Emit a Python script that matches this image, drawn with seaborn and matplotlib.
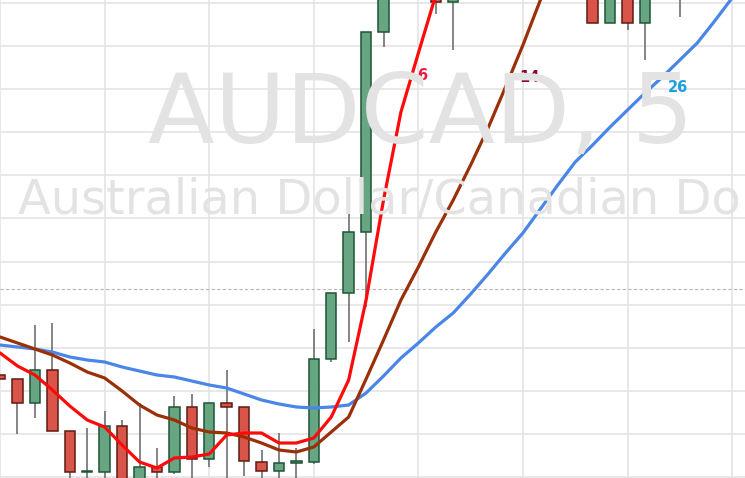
import numpy as np
import pandas as pd
import matplotlib
matplotlib.use("Agg")
import matplotlib.pyplot as plt
import seaborn as sns

# ---- data (AUDCAD, M5) ----
opens = [0.97103, 0.97099, 0.97075, 0.97108, 0.97047, 0.97006, 0.97006, 0.97052, 0.96993, 0.97011,
         0.97006, 0.97071, 0.97019, 0.97075, 0.97071, 0.97016, 0.97007, 0.97015, 0.97016, 0.97119,
         0.97185, 0.97246, 0.97446, 0.97518, 0.97568, 0.97538, 0.97476, 0.97518, 0.97548, 0.97528,
         0.97558, 0.97538, 0.97553, 0.97523, 0.97508, 0.97455, 0.97508, 0.97455, 0.97508, 0.97488,
         0.97518, 0.97498, 0.97528]
highs = [0.97103, 0.97099, 0.97153, 0.97155, 0.97047, 0.97050, 0.97067, 0.97058, 0.97075, 0.97030,
         0.97082, 0.97084, 0.97075, 0.97108, 0.97071, 0.97028, 0.97045, 0.97030, 0.97149, 0.97185,
         0.97280, 0.97446, 0.97538, 0.97588, 0.97598, 0.97558, 0.97538, 0.97568, 0.97568, 0.97578,
         0.97578, 0.97573, 0.97573, 0.97558, 0.97528, 0.97528, 0.97528, 0.97528, 0.97528, 0.97538,
         0.97538, 0.97548, 0.97568]
lows = [0.97099, 0.97044, 0.97060, 0.97047, 0.96988, 0.96988, 0.96988, 0.96978, 0.96983, 0.96988,
        0.97004, 0.96993, 0.97011, 0.96998, 0.97002, 0.96993, 0.96993, 0.96993, 0.97014, 0.97116,
        0.97136, 0.97171, 0.97431, 0.97498, 0.97508, 0.97464, 0.97428, 0.97498, 0.97508, 0.97508,
        0.97518, 0.97518, 0.97508, 0.97503, 0.97455, 0.97455, 0.97448, 0.97418, 0.97483, 0.97461,
        0.97483, 0.97486, 0.97508]
closes = [0.97099, 0.97075, 0.97108, 0.97047, 0.97006, 0.97007, 0.97052, 0.96988, 0.97011, 0.97006,
          0.97071, 0.97019, 0.97075, 0.97071, 0.97017, 0.97007, 0.97015, 0.97017, 0.97119, 0.97185,
          0.97246, 0.97446, 0.97518, 0.97568, 0.97548, 0.97476, 0.97518, 0.97548, 0.97528, 0.97558,
          0.97538, 0.97553, 0.97523, 0.97538, 0.97455, 0.97508, 0.97455, 0.97508, 0.97493, 0.97518,
          0.97498, 0.97528, 0.97548]

nan = np.nan
ma6 = [0.97125, 0.97112, 0.97103, 0.97088, 0.97072, 0.97058, 0.97051, 0.97033, 0.97016, 0.97010,
       0.97020, 0.97021, 0.97024, 0.97043, 0.97045, 0.97045, 0.97035, 0.97035, 0.97040, 0.97061,
       0.97098, 0.97178, 0.97278, 0.97366, 0.97425, 0.97483, 0.97538, nan, nan, nan,
       nan, nan, nan, nan, nan, nan, nan, nan, nan, nan, nan, nan, nan]
ma14 = [0.97141, 0.97135, 0.97129, 0.97123, 0.97115, 0.97106, 0.97100, 0.97087, 0.97073, 0.97063,
        0.97058, 0.97050, 0.97046, 0.97045, 0.97041, 0.97035, 0.97028, 0.97026, 0.97031, 0.97046,
        0.97061, 0.97099, 0.97138, 0.97178, 0.97211, 0.97246, 0.97278, 0.97313, 0.97350, 0.97391,
        0.97433, 0.97478, 0.97523, nan, nan, nan, nan, nan, nan, nan, nan, nan, nan]
ma26 = [0.97133, 0.97131, 0.97129, 0.97126, 0.97121, 0.97118, 0.97116, 0.97111, 0.97107, 0.97103,
        0.97101, 0.97097, 0.97093, 0.97090, 0.97084, 0.97078, 0.97074, 0.97071, 0.97070, 0.97071,
        0.97073, 0.97085, 0.97102, 0.97120, 0.97135, 0.97151, 0.97165, 0.97184, 0.97204, 0.97225,
        0.97245, 0.97269, 0.97293, 0.97316, 0.97333, 0.97351, 0.97368, 0.97385, 0.97401, 0.97418,
        0.97435, 0.97457, 0.97480]

current_price = 0.97189
symbol = "AUDCAD, 5"
description = "Australian Dollar/Canadian Dollar"
ma_labels = ["6", "14", "26"]

# ---- build frame ----
idx = np.arange(len(opens))
df = pd.DataFrame({"i": idx, "open": opens, "high": highs, "low": lows, "close": closes,
                   "ma6": ma6, "ma14": ma14, "ma26": ma26})

sns.set_style("white")
plt.rcParams["font.family"] = ["DejaVu Sans"]

fig = plt.figure(figsize=(7.45, 4.78), dpi=100)
ax = fig.add_axes([0, 0, 1, 1])
ax.set_xlim(-0.004, 42.74)
ax.set_ylim(0.97000, 0.97478)

# grid
grid_c = "#e2e2e2"
for gx in np.arange(0, 43, 6):
    ax.axvline(gx, color=grid_c, lw=1.1, zorder=0)
for gy in np.arange(0.97001, 0.97480, 0.000431):
    ax.axhline(gy, color=grid_c, lw=1.1, zorder=0)

# watermark
fig.text(148 / 745, 1 - 143 / 478, symbol, fontsize=70, color="#e3e3e3",
         ha="left", va="baseline", zorder=0.5)
fig.text(18 / 745, 1 - 213 / 478, description, fontsize=34.5, color="#e3e3e3",
         ha="left", va="baseline", zorder=0.5)

# current price line
ax.axhline(current_price, color="#b5b5b5", lw=0.8, ls=(0, (3, 2)), zorder=1)

# candles
up = df["close"] >= df["open"]
ax.vlines(df["i"], df["low"], df["high"], color="#707070", lw=1.2, zorder=2)
body_bottom = np.minimum(df["open"], df["close"])
body_h = np.maximum(np.abs(df["close"] - df["open"]), 0.000012)
ax.bar(df["i"][up], body_h[up], bottom=body_bottom[up], width=0.6,
       color="#68a683", edgecolor="#1d5535", linewidth=1.1, zorder=3)
ax.bar(df["i"][~up], body_h[~up], bottom=body_bottom[~up], width=0.6,
       color="#d9554a", edgecolor="#5e1a12", linewidth=1.1, zorder=3)

# moving averages
sns.lineplot(data=df, x="i", y="ma26", color="#4a86e8", lw=2.3, ax=ax, zorder=4)
sns.lineplot(data=df, x="i", y="ma14", color="#9a3008", lw=2.3, ax=ax, zorder=5)
sns.lineplot(data=df, x="i", y="ma6", color="#ff0a0a", lw=2.3, ax=ax, zorder=6)

# labels
ax.text(24.24, 0.97403, ma_labels[0], color="#f01a3c", fontsize=10.5, fontweight="bold",
        ha="center", va="center", zorder=7)
ax.text(30.35, 0.974005, ma_labels[1], color="#8b0a2a", fontsize=10.5, fontweight="bold",
        ha="center", va="center", zorder=7)
ax.text(38.87, 0.97390, ma_labels[2], color="#1a9fe2", fontsize=10.5, fontweight="bold",
        ha="center", va="center", zorder=7)

ax.set_xlabel("")
ax.set_ylabel("")
ax.set_xticks([])
ax.set_yticks([])
for s in ax.spines.values():
    s.set_visible(False)

fig.savefig("out.png", dpi=100)
